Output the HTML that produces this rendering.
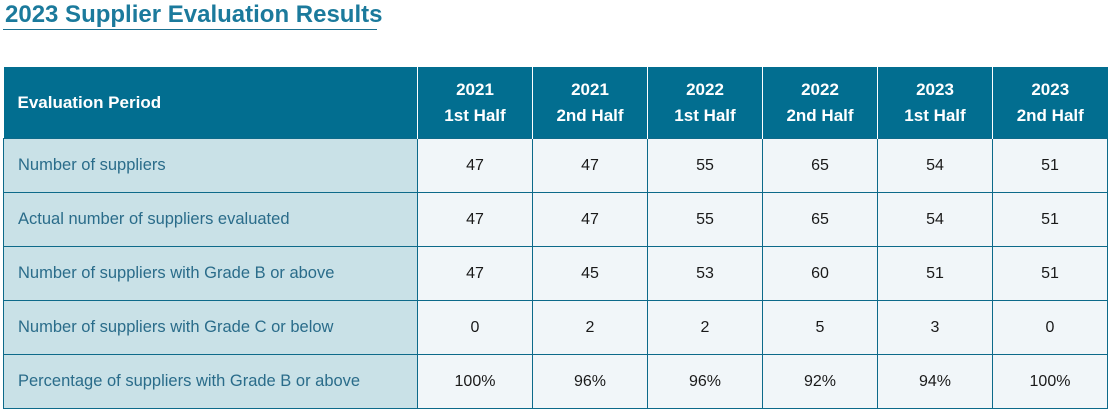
<!DOCTYPE html>
<html><head><meta charset="utf-8"><style>
body{margin:0;width:1110px;height:411px;background:#fff;font-family:"Liberation Sans",sans-serif;position:relative;overflow:hidden}
.title{position:absolute;left:5px;top:1px;font-size:24px;font-weight:bold;color:#1b7a9c;letter-spacing:0px;white-space:nowrap}
.ul{position:absolute;left:3px;top:29px;width:374px;height:1px;background:#1b6f8f}
table{position:absolute;left:3px;top:67px;border-collapse:collapse;table-layout:fixed}
th{background:#026e90;color:#fff;font-size:17px;font-weight:bold;height:71px;padding:0;border-left:1.5px solid #fff;line-height:26px}
th.first{text-align:left;padding-left:14px;border-left:none}
td{height:53px;padding:0;border:1px solid #0d6a8a;background:#f1f6f9;color:#1a1a1a;font-size:16px;text-align:center}
td.lab{background:#c9e1e7;color:#2a6c8a;text-align:left;padding-left:14px;font-size:16.5px}
</style></head><body>
<div class="title">2023 Supplier Evaluation Results</div>
<div class="ul"></div>
<table>
<colgroup><col style="width:414px"><col style="width:115px"><col style="width:115px"><col style="width:115px"><col style="width:115px"><col style="width:115px"><col style="width:115px"></colgroup>
<tr>
<th class="first">Evaluation Period</th>
<th>2021<br>1st Half</th>
<th>2021<br>2nd Half</th>
<th>2022<br>1st Half</th>
<th>2022<br>2nd Half</th>
<th>2023<br>1st Half</th>
<th>2023<br>2nd Half</th>
</tr>
<tr><td class="lab">Number of suppliers</td><td>47</td><td>47</td><td>55</td><td>65</td><td>54</td><td>51</td></tr>
<tr><td class="lab">Actual number of suppliers evaluated</td><td>47</td><td>47</td><td>55</td><td>65</td><td>54</td><td>51</td></tr>
<tr><td class="lab">Number of suppliers with Grade B or above</td><td>47</td><td>45</td><td>53</td><td>60</td><td>51</td><td>51</td></tr>
<tr><td class="lab">Number of suppliers with Grade C or below</td><td>0</td><td>2</td><td>2</td><td>5</td><td>3</td><td>0</td></tr>
<tr><td class="lab">Percentage of suppliers with Grade B or above</td><td>100%</td><td>96%</td><td>96%</td><td>92%</td><td>94%</td><td>100%</td></tr>
</table>
</body></html>
